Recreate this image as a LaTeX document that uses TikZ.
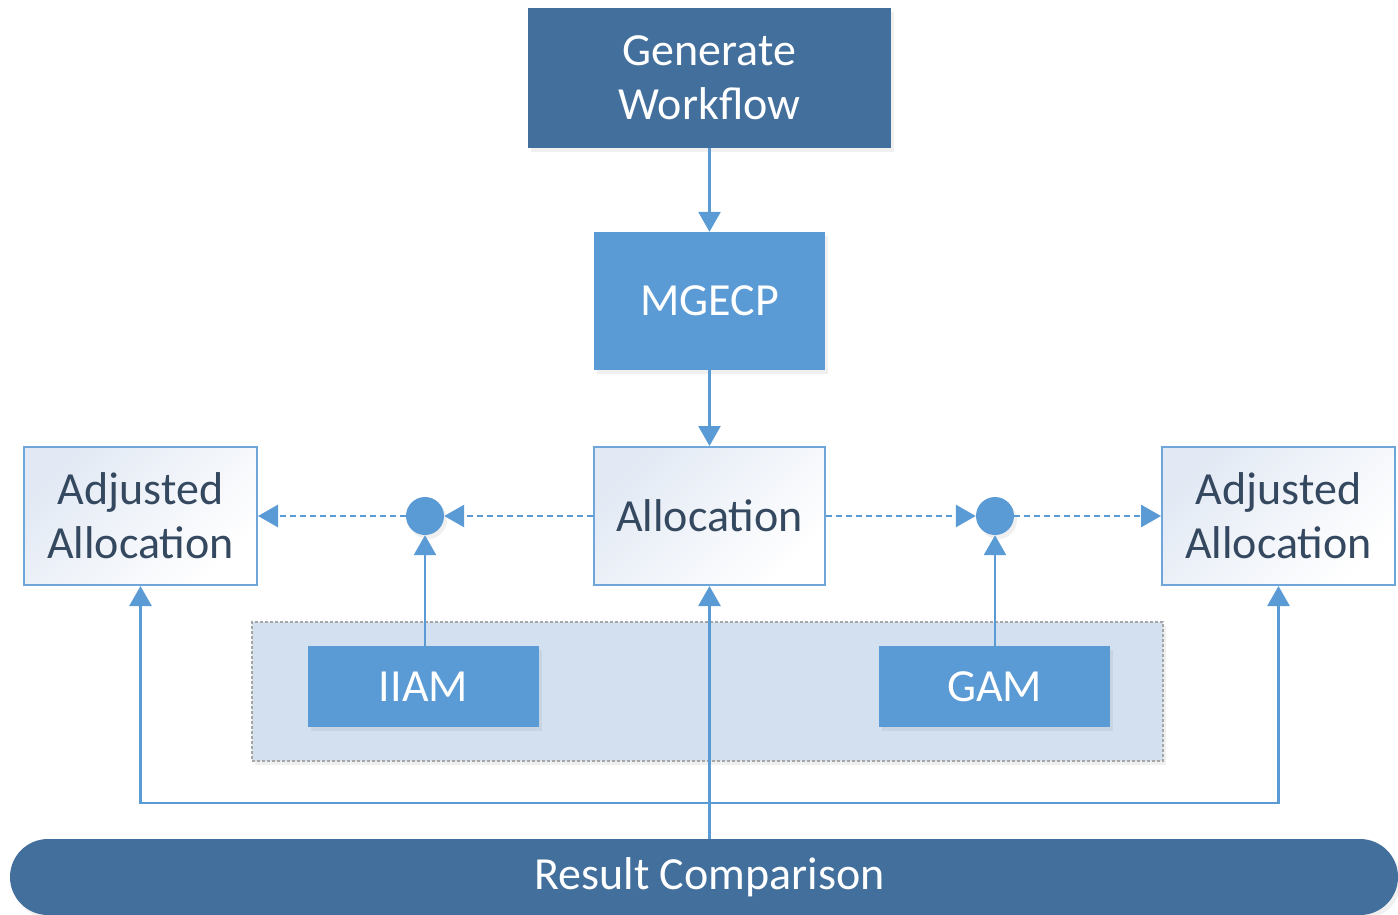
\documentclass[tikz,border=0pt]{standalone}
\usepackage{fontspec}
\setmainfont{Carlito}
\usetikzlibrary{arrows.meta,shadows}
\definecolor{darkblue}{HTML}{426F9C}
\definecolor{midblue}{HTML}{5B9BD5}
\definecolor{edgeblue}{HTML}{6FA6DA}
\definecolor{paleblue}{HTML}{E2E9F4}
\definecolor{groupfill}{HTML}{D3E0F0}
\definecolor{labelink}{HTML}{34485F}
\tikzset{
  x=1pt, y=-1pt,
  boxtext/.style={font=\fontsize{46}{54}\selectfont, align=center, inner sep=0pt},
  softshadow/.style={drop shadow={opacity=0.12, shadow xshift=3pt, shadow yshift=-4pt}},
  darkbox/.style={boxtext, rectangle, fill=darkblue, text=white, softshadow},
  bluebox/.style={boxtext, rectangle, fill=midblue, text=white, softshadow},
  lightbox/.style={boxtext, rectangle, draw=edgeblue, line width=2pt,
    top color=paleblue, bottom color=white, shading angle=45, text=labelink},
  joint/.style={circle, fill=midblue, inner sep=0pt, minimum size=38pt, softshadow},
  link/.style={draw=midblue, line width=2.8pt},
  tip/.style={-{Triangle[length=20pt, width=22pt]}},
  dotlink/.style={link, dash pattern=on 6pt off 4pt},
}
\begin{document}
\begin{tikzpicture}
\useasboundingbox (0,0) rectangle (1398,914);

% grouping panel behind the two models
\node[rectangle, fill=groupfill, draw=gray!70, line width=1.5pt, dash pattern=on 3pt off 2pt,
      minimum width=911pt, minimum height=139pt, inner sep=0pt, softshadow] (group) at (707.5,691.5) {};

% main boxes
\node[darkbox, minimum width=363pt, minimum height=140pt] (gen) at (709.5,78) {Generate\\Workflow};
\node[bluebox, minimum width=231pt, minimum height=138pt] (mgecp) at (709.5,301) {MGECP};
\node[lightbox, minimum width=231pt, minimum height=138pt] (alloc) at (709.5,516) {Allocation};
\node[lightbox, minimum width=233pt, minimum height=138pt] (adjL) at (140.5,516) {Adjusted\\Allocation};
\node[lightbox, minimum width=233pt, minimum height=138pt] (adjR) at (1278.5,516) {Adjusted\\Allocation};
\node[bluebox, minimum width=231pt, minimum height=81pt] (iiam) at (423.5,686.5) {IIAM};
\node[bluebox, minimum width=231pt, minimum height=81pt] (gam) at (994.5,686.5) {GAM};

% junction points
\node[joint] (jL) at (425,516) {};
\node[joint] (jR) at (995,516) {};

% result bar
\node[rectangle, fill=darkblue, rounded corners=38pt, minimum width=1388pt, minimum height=76pt,
      inner sep=0pt, softshadow] (rc) at (704,877) {};
\node[boxtext, text=white] (rctext) at (709.5,877) {Result Comparison};

% top-down flow
\draw[link, tip] (gen) -- (mgecp);
\draw[link, tip] (mgecp) -- (alloc);

% dotted paths through the junctions
\draw[dotlink, tip] (alloc) -- (jL);
\draw[dotlink, tip] (jL) -- (adjL);
\draw[dotlink, tip] (alloc) -- (jR);
\draw[dotlink, tip] (jR) -- (adjR);

% model inputs into the junctions
\draw[link, tip] (iiam.north -| jL) -- (jL);
\draw[link, tip] (gam.north -| jR) -- (jR);

% feedback from the result bar
\coordinate (fb) at (709.5,803);
\draw[link, tip] (rc.north -| alloc) -- (alloc);
\draw[link, tip] (fb) -| (adjL);
\draw[link, tip] (fb) -| (adjR);
\end{tikzpicture}
\end{document}
